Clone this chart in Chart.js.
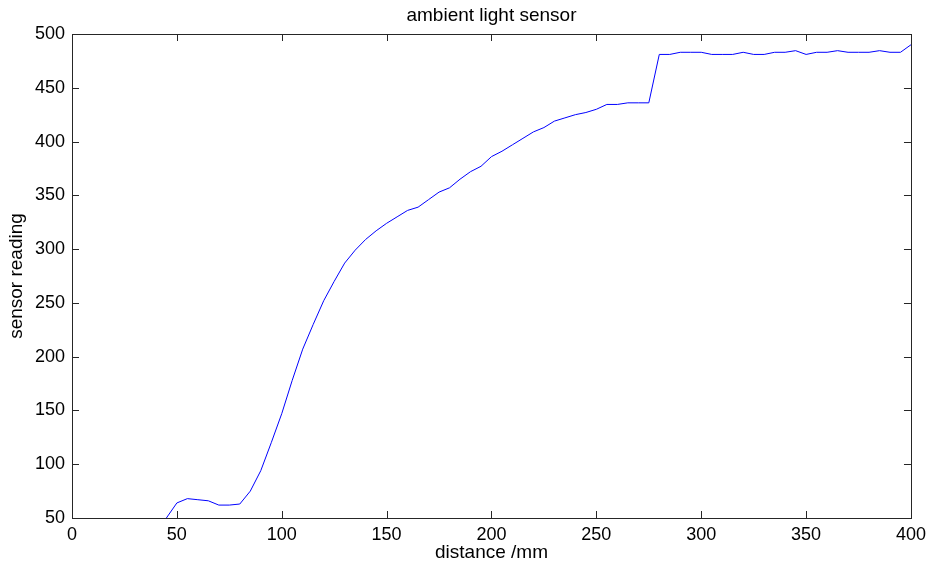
<!DOCTYPE html>
<html>
<head>
<meta charset="utf-8" />
<title>ambient light sensor</title>
<script src="https://cdn.jsdelivr.net/npm/chart.js"></script>
<style>
  html, body { margin: 0; padding: 0; background: #fff; }
  #wrap { width: 932px; height: 568px; }
</style>
</head>
<body>
<div id="wrap"><canvas id="myChart" width="932" height="568"></canvas></div>
<script>
// distance in mm
const distance = [45, 50, 55, 60, 65, 70, 75, 80, 85, 90, 95, 100, 105, 110, 115, 120, 125, 130, 135, 140,
                  145, 150, 155, 160, 165, 170, 175, 180, 185, 190, 195, 200, 205, 210, 215, 220, 225, 230,
                  235, 240, 245, 250, 255, 260, 265, 270, 275, 280, 285, 290, 295, 300, 305, 310, 315, 320,
                  325, 330, 335, 340, 345, 350, 355, 360, 365, 370, 375, 380, 385, 390, 395, 400];
// sensor reading
const reading = [50, 64, 68, 67, 66, 62, 62, 63, 75, 94, 120, 147, 178, 207, 230, 252, 270, 287, 299, 309,
                 317, 324, 330, 336, 339, 346, 353, 357, 365, 372, 377, 386, 391, 397, 403, 409, 413, 419,
                 422, 425, 427, 430, 434.5, 434.5, 436, 436, 436, 481, 481, 483, 483, 483, 481, 481, 481, 483,
                 481, 481, 483, 483, 484.5, 481, 483, 483, 484.5, 483, 483, 483, 484.5, 483, 483, 490];

const xTicks = [0, 50, 100, 150, 200, 250, 300, 350, 400];
const yTicks = [50, 100, 150, 200, 250, 300, 350, 400, 450, 500];

const FONT = "'Liberation Sans', Arial, Helvetica, sans-serif";

// matlab style box with inward ticks on all four sides
const boxPlugin = {
  id: 'boxPlugin',
  afterDraw(chart) {
    const c = chart.ctx;
    const a = chart.chartArea;
    const xs = chart.scales.x, ys = chart.scales.y;
    const len = 7;
    c.save();
    c.strokeStyle = '#262626';
    c.lineWidth = 1;
    c.beginPath();
    xTicks.forEach(function(v) {
      const px = Math.round(xs.getPixelForValue(v)) + 0.5;
      c.moveTo(px, a.bottom); c.lineTo(px, a.bottom - len);
      c.moveTo(px, a.top); c.lineTo(px, a.top + len);
    });
    yTicks.forEach(function(v) {
      const py = Math.round(ys.getPixelForValue(v)) + 0.5;
      c.moveTo(a.left, py); c.lineTo(a.left + len, py);
      c.moveTo(a.right, py); c.lineTo(a.right - len, py);
    });
    c.stroke();
    c.strokeRect(Math.round(a.left) + 0.5, Math.round(a.top) + 0.5,
                 Math.round(a.right - a.left), Math.round(a.bottom - a.top));
    c.restore();
  }
};

const ctx = document.getElementById('myChart').getContext('2d');
const myChart = new Chart(ctx, {
  type: 'line',
  data: {
    labels: distance,
    datasets: [{
      label: 'sensor reading',
      data: distance.map(function(d, i) { return { x: d, y: reading[i] }; }),
      borderColor: '#0000ff',
      backgroundColor: '#0000ff',
      borderWidth: 1,
      pointRadius: 0,
      tension: 0,
      fill: false
    }]
  },
  options: {
    responsive: false,
    animation: false,
    layout: { padding: { top: 0, right: 20, left: 0, bottom: 0 } },
    plugins: {
      legend: { display: false },
      tooltip: { enabled: false },
      title: {
        display: true,
        text: 'ambient light sensor',
        fullSize: false,
        color: '#000',
        font: { family: FONT, size: 19, weight: 'normal' },
        padding: { top: 4, bottom: 7.2 }
      }
    },
    scales: {
      x: {
        type: 'linear',
        min: 0, max: 400,
        afterBuildTicks: function(s) { s.ticks = xTicks.map(function(v) { return { value: v }; }); },
        afterFit: function(s) { s.height = 50; },
        grid: { display: false, drawTicks: false },
        border: { display: false },
        ticks: { color: '#000', padding: 6, maxRotation: 0, font: { family: FONT, size: 18 } },
        title: { display: true, text: 'distance /mm', color: '#000',
                 font: { family: FONT, size: 19 }, padding: { top: 0, bottom: 4 } }
      },
      y: {
        type: 'linear',
        min: 50, max: 500,
        afterBuildTicks: function(s) { s.ticks = yTicks.map(function(v) { return { value: v }; }); },
        afterFit: function(s) { s.width = 72; },
        grid: { display: false, drawTicks: false },
        border: { display: false },
        ticks: { color: '#000', padding: 7, font: { family: FONT, size: 18 } },
        title: { display: true, text: 'sensor reading', color: '#000',
                 font: { family: FONT, size: 19 }, padding: { top: 5, bottom: 0 } }
      }
    }
  },
  plugins: [boxPlugin]
});
</script>
</body>
</html>
